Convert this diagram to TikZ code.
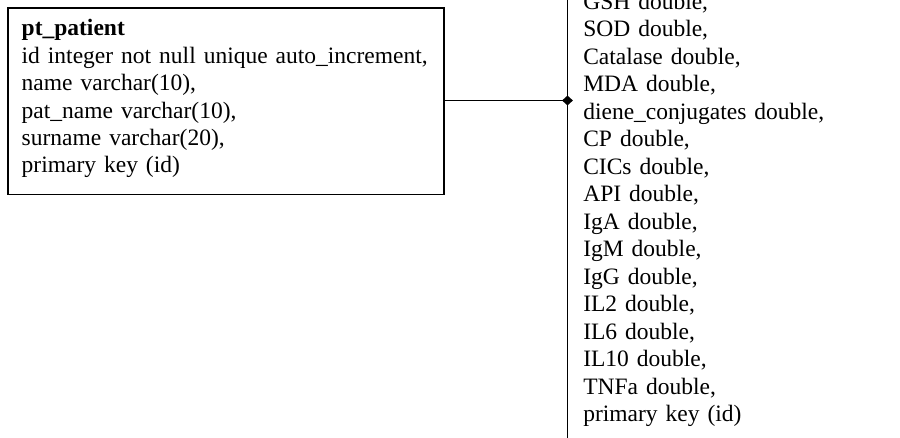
\documentclass[tikz,border=0pt]{standalone}
\usepackage{fontspec}
\setmainfont[WordSpace=1.36]{Liberation Serif}
\usetikzlibrary{shapes.geometric}

\tikzset{
  rule/.style={line width=1.5pt, black},
  tablebox/.style={rule, draw, rectangle, inner sep=0pt, anchor=north west},
  field/.style={anchor=base west, inner sep=0pt, outer sep=0pt,
    font=\fontsize{23.5}{27.4}\selectfont},
  fkmark/.style={diamond, fill=black, inner sep=0pt, minimum width=11pt, minimum height=10pt},
}

\begin{document}
\begin{tikzpicture}[x=1pt, y=-1pt]
  \useasboundingbox (0,0) rectangle (900,438);
  \clip (0,0) rectangle (900,438);

  % table pt_patient
  \node[tablebox, minimum width=436pt, minimum height=186.7pt] (patient) at (7.3,7.3) {};
  \node[field] (p0) at (21.7,36.0) {\bfseries pt\_patient};
  \node[field] (p1) at (21.7,63.4) {id integer not null unique auto\_increment,};
  \node[field] (p2) at (21.7,90.8) {name varchar(10),};
  \node[field] (p3) at (21.7,118.2) {pat\_name varchar(10),};
  \node[field] (p4) at (21.7,145.6) {surname varchar(20),};
  \node[field] (p5) at (21.7,173.0) {primary key (id)};

  % left edge of the analyses table
  \coordinate (rtop) at (567.5,0);
  \coordinate (rbot) at (567.5,438);
  \draw[rule] (rtop) -- (rbot);

  \foreach \txt [count=\i from 0] in {
      {GSH double,}, {SOD double,}, {Catalase double,}, {MDA double,},
      {diene\_conjugates double,}, {CP double,}, {CICs double,}, {API double,},
      {IgA double,}, {IgM double,}, {IgG double,}, {IL2 double,}, {IL6 double,},
      {IL10 double,}, {TNFa double,}, {primary key (id)}} {
    \node[field] (r\i) at (583.3, 9.3 + 27.5*\i) {\txt};
  }

  % foreign key link
  \coordinate (fk) at (567.5,100.5);
  \draw[rule] (patient.east |- fk) -- (fk);
  \node[fkmark] (fkd) at (fk) {};
\end{tikzpicture}
\end{document}
